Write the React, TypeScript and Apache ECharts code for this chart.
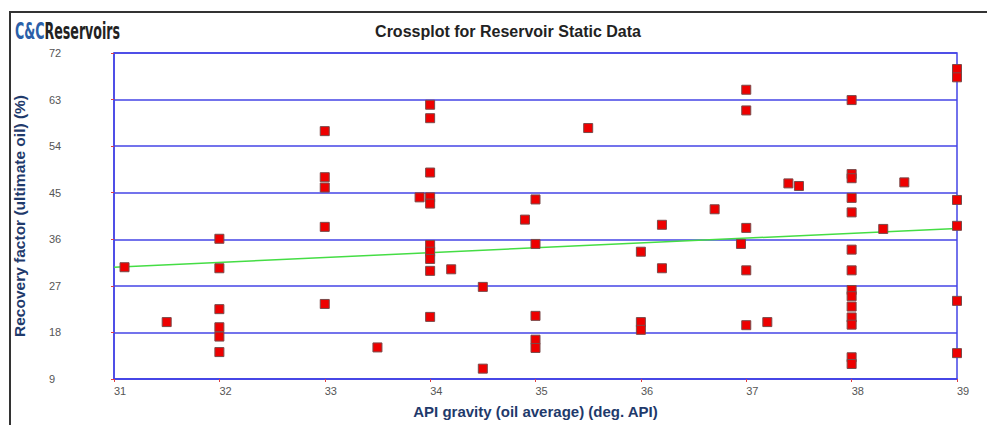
import React, { useEffect, useRef } from "react";
import * as echarts from "echarts";

const apiGravity = [
  31.1, 31.5, 32, 32, 32, 32, 32, 32,
  33, 33, 33, 33, 33, 33.5, 33.9,
  34, 34, 34, 34, 34, 34, 34, 34, 34, 34,
  34.2, 34.5, 34.5, 34.9,
  35, 35, 35, 35, 35, 35.5,
  36, 36, 36, 36.2, 36.2, 36.7, 36.95,
  37, 37, 37, 37, 37, 37.2, 37.4, 37.5,
  38, 38, 38, 38, 38, 38, 38, 38, 38, 38, 38, 38, 38, 38,
  38.3, 38.5,
  39, 39, 39, 39, 39, 39,
];
const recoveryFactor = [
  30.6, 20.0, 36.1, 30.4, 22.5, 19.0, 17.2, 14.2,
  56.9, 48.0, 46.0, 38.4, 23.5, 15.1, 44.1,
  62.0, 59.4, 48.9, 44.1, 42.9, 34.9, 33.6, 32.2, 29.9, 21.0,
  30.2, 26.8, 11.0, 39.8,
  43.7, 35.1, 21.2, 16.6, 15.0, 57.5,
  33.6, 20.0, 18.5, 38.8, 30.4, 41.8, 35.1,
  64.9, 60.9, 38.2, 30.0, 19.4, 20.0, 46.8, 46.3,
  62.9, 48.6, 47.8, 44.0, 41.2, 34.0, 30.0, 26.2, 25.0, 23.0, 20.9, 19.5, 13.2, 11.9,
  38.0, 47.0,
  68.9, 67.3, 43.6, 38.6, 24.1, 14.0,
];
const trendX = [31, 39];
const trendY = [30.6, 38.1];
const yTicks = [9, 18, 27, 36, 45, 54, 63, 72];
const xTicks = [31, 32, 33, 34, 35, 36, 37, 38, 39];

const chartTitle = "Crossplot for Reservoir Static Data";
const xName = "API gravity (oil average) (deg. API)";
const yName = "Recovery factor (ultimate oil) (%)";

export default function App() {
  const ref = useRef<HTMLDivElement>(null);
  useEffect(() => {
    if (!ref.current) return;
    const chart = echarts.init(ref.current, undefined, { renderer: "svg" });
    const blue = "#4444e6";
    const font = '"Liberation Sans", Arial, sans-serif';
    const logoFont = '"Liberation Sans Narrow", "DejaVu Sans Condensed", sans-serif';
    chart.setOption({
      animation: false,
      backgroundColor: "#ffffff",
      grid: {
        left: 114,
        top: 53,
        right: 30,
        bottom: 46,
        show: true,
        borderColor: blue,
        borderWidth: 1.5,
      },
      xAxis: {
        type: "value",
        min: xTicks[0],
        max: xTicks[xTicks.length - 1],
        interval: 1,
        name: xName,
        nameLocation: "middle",
        nameGap: 25,
        nameTextStyle: { color: "#1f3a6b", fontWeight: "bold", fontSize: 15, fontFamily: font },
        axisLine: { show: true, lineStyle: { color: blue, width: 1.5 } },
        axisTick: { show: true, length: 3, lineStyle: { color: "#e04040" } },
        axisLabel: { color: "#555555", fontSize: 11, fontFamily: font, align: "left", margin: 6 },
        splitLine: { show: false },
      },
      yAxis: {
        type: "value",
        min: yTicks[0],
        max: yTicks[yTicks.length - 1],
        interval: 9,
        name: yName,
        nameLocation: "middle",
        nameGap: 87,
        nameTextStyle: { color: "#1f3a6b", fontWeight: "bold", fontSize: 15.5, fontFamily: font },
        axisLine: { show: true, lineStyle: { color: blue, width: 1.5 } },
        axisTick: { show: true, length: 3, lineStyle: { color: "#e04040" } },
        axisLabel: {
          color: "#555555",
          fontSize: 11,
          fontFamily: font,
          align: "left",
          margin: 65,
          padding: [0, 0, 6, 0],
        },
        splitLine: { show: true, lineStyle: { color: blue, width: 1.5 } },
      },
      series: [
        {
          type: "line",
          data: trendX.map((x, i) => [x, trendY[i]]),
          showSymbol: false,
          lineStyle: { color: "#44dd44", width: 1.5 },
          z: 3,
        },
        {
          type: "scatter",
          data: apiGravity.map((x, i) => [x, recoveryFactor[i]]),
          symbol: "rect",
          symbolSize: 9,
          clip: false,
          itemStyle: { color: "#ee0000", borderColor: "#7a4a4a", borderWidth: 1, opacity: 1 },
          z: 4,
        },
      ],
      graphic: [
        {
          type: "polyline",
          shape: { points: [[10, 430], [10, 12], [990, 12]] },
          style: { stroke: "#333333", lineWidth: 2, fill: null },
        },
        {
          type: "text",
          x: 15,
          y: 19,
          scaleX: 0.61,
          style: {
            text: "{a|C&C}{b|Reservoirs}",
            verticalAlign: "top",
            rich: {
              a: { fill: "#2b5fa8", fontSize: 23, fontWeight: "bold", fontFamily: logoFont },
              b: { fill: "#222222", fontSize: 23, fontWeight: "bold", fontFamily: logoFont },
            },
          },
        },
        {
          type: "text",
          x: 508,
          y: 31,
          style: {
            text: chartTitle,
            align: "center",
            verticalAlign: "middle",
            fill: "#222222",
            fontSize: 16,
            fontWeight: "bold",
            fontFamily: font,
          },
        },
      ],
    });
    return () => chart.dispose();
  }, []);
  return (
    <div
      ref={ref}
      style={{ position: "fixed", left: 0, top: 0, width: 987, height: 425 }}
    />
  );
}
